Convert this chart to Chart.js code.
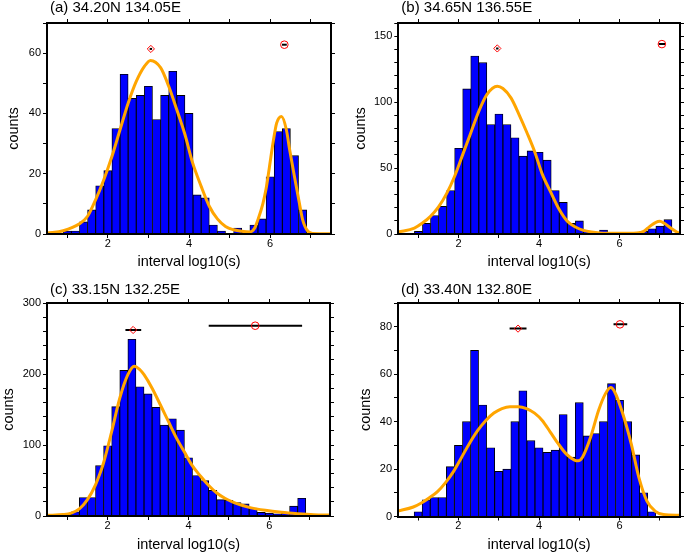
<!DOCTYPE html>
<html><head><meta charset="utf-8">
<script src="https://cdn.jsdelivr.net/npm/chart.js@4/dist/chart.umd.min.js"></script>
<style>
html,body{margin:0;padding:0;background:#fff;}
body{width:685px;height:552px;position:relative;overflow:hidden;}
canvas{position:absolute;}
</style></head><body>
<canvas id="ca" width="342" height="270" style="left:0;top:0"></canvas>
<canvas id="cb" width="343" height="270" style="left:342px;top:0"></canvas>
<canvas id="cc" width="342" height="282" style="left:0;top:270px"></canvas>
<canvas id="cd" width="343" height="282" style="left:342px;top:270px"></canvas>
<script>
// ---------- data ----------
const binCenters = [0.6,0.8,1.0,1.2,1.4,1.6,1.8,2.0,2.2,2.4,2.6,2.8,3.0,3.2,3.4,3.6,3.8,4.0,4.2,4.4,4.6,4.8,5.0,5.2,5.4,5.6,5.8,6.0,6.2,6.4,6.6,6.8,7.0,7.2,7.4];

const countsA = [0,0,1,1,4,8,16,21,35,53,45,46,49,38,46,54,46,40,13,12,3,1,0,2,1,3,5,19,34,35,26,8,0,0,0];
const countsB = [0,0,2,8,14,21,33,65,110,135,130,83,91,83,73,59,63,62,56,33,24,8,10,2,1,3,0,0,0,0,2,4,6,11,0];
const countsC = [0,0,3,6,26,26,71,99,154,205,249,182,172,153,128,137,121,82,57,50,36,23,22,19,17,11,5,4,3,4,14,25,2,0,0];
const countsD = [0,0,2,7,8,8,21,30,40,70,47,29,19,20,40,53,32,29,27,28,43,25,48,34,35,40,56,49,40,26,10,2,0,0,0];

const curveAx = [0.5,0.9,1.3,1.5,1.7,1.9,2.1,2.3,2.5,2.7,2.9,3.05,3.3,3.5,3.7,3.9,4.08,4.3,4.5,4.7,4.9,5.1,5.3,5.5,5.62,5.7,5.82,5.9,5.98,6.08,6.16,6.28,6.4,6.48,6.6,6.72,6.8,6.93,7.05,7.5];
const curveAy = [0.3,1.1,3.4,5.9,11.4,18,25.7,34.6,43.4,50.6,55.6,57.6,55.2,49,41.2,33,24,15.8,9.2,5,2.5,1.4,0.9,0.7,2,4.8,10,15,22,31,36.8,39,34.6,28,19,10.3,4.8,0.9,0.2,0.1];
const curveBx = [0.5,0.9,1.1,1.3,1.5,1.7,1.9,2.1,2.3,2.5,2.7,2.96,3.1,3.3,3.5,3.7,3.9,4.07,4.3,4.5,4.7,4.9,5.1,5.3,5.5,6.0,6.42,6.6,6.75,6.9,7.0,7.1,7.27,7.43,7.5];
const curveBy = [1.5,4.5,8.3,13.4,20.5,30.6,43.8,60.2,76.6,93,105.7,112,110.3,103.2,90.6,76.6,61.5,46,31,18.5,9.6,5.3,2.8,1.5,0.8,0.5,0.8,2,5.8,8.9,9.6,8.3,4.5,1.3,0.3];
const curveCx = [0.5,0.9,1.1,1.3,1.5,1.7,1.83,1.9,2.1,2.3,2.5,2.66,2.8,2.9,3.1,3.3,3.5,3.7,3.9,4.08,4.3,4.5,4.7,4.9,5.1,5.3,5.5,5.9,6.3,6.7,7.1,7.5];
const curveCy = [1,2,4,10,23,44,63,75,119,166,199,211,206,199,180,157,133.5,110,90,72,56,43,32.4,25,19.7,15.5,12.2,8,5.2,3.3,1.9,1.4];
const curveDx = [0.5,0.88,1.08,1.28,1.48,1.68,1.88,2.08,2.28,2.48,2.68,2.88,3.08,3.28,3.49,3.69,3.89,4.08,4.28,4.48,4.68,4.88,4.97,5.08,5.28,5.48,5.65,5.78,5.88,6.08,6.29,6.48,6.68,6.88,7.09,7.5];
const curveDy = [2.3,4,5.7,7.9,10.5,14.3,19,25,31,36.3,40.5,43.6,45.5,46.3,46.3,45.5,43.6,40.5,35.6,30.6,26.3,23.8,23.5,25,33.4,44.8,51.8,54.4,52.5,43.3,30.6,16.4,6.5,2.3,0.8,0.5];

// peak markers (diamond, circle) with horizontal error bars
const markAx = [3.06, 6.35], markAy = [61.4, 62.8], errLoA = [3.03, 6.29], errHiA = [3.09, 6.41];
const markBx = [2.96, 7.05], markBy = [140.7, 144], errLoB = [2.93, 6.97], errHiB = [2.99, 7.13];
const markCx = [2.63, 5.65], markCy = [262, 268], errLoC = [2.44, 4.50], errHiC = [2.83, 6.81];
const markDx = [3.48, 6.01], markDy = [79.2, 81], errLoD = [3.27, 5.85], errHiD = [3.69, 6.19];

const panelTitles = ["(a) 34.20N 134.05E", "(b) 34.65N 136.55E", "(c) 33.15N 132.25E", "(d) 33.40N 132.80E"];
const xTickValues = [1, 2, 3, 4, 5, 6, 7];
const xTickLabels = [2, 4, 6];
const yMaxes = [70, 160, 300, 90];
const yMinorSteps = [10, 10, 20, 10];
const yLabelSteps = [20, 50, 100, 20];
const xLabel = "interval log10(s)";
const yLabel = "counts";

// ---------- drawing ----------
const FONT = "'Liberation Sans', Arial, Helvetica, sans-serif";

const titlePlugin = {
  id: 'panelTitle',
  afterDraw(chart, args, opts) {
    const ctx = chart.ctx;
    ctx.save();
    ctx.font = '15px ' + FONT;
    ctx.fillStyle = '#000';
    ctx.textBaseline = 'alphabetic';
    ctx.textAlign = 'left';
    ctx.fillText(opts.text, chart.chartArea.left + 3, opts.y);
    ctx.restore();
  }
};

function axisCommon(pos, min, max, step, labelFn, showLabels) {
  return {
    type: 'linear', position: pos, min: min, max: max, offset: false,
    ticks: {
      display: showLabels, stepSize: step, autoSkip: false, maxRotation: 0,
      font: {family: FONT, size: 11}, color: '#000',
      padding: (pos === 'bottom') ? -1 : 2,
      callback: labelFn
    },
    grid: {display: true, drawOnChartArea: false, drawTicks: true, tickLength: 4, color: '#000', lineWidth: 1, offset: false},
    border: {display: true, color: '#000', width: 2, z: 1}
  };
}

function makePanel(id, idx, L, T, R, B, titleY, yTitlePad, xTitlePad, counts, cx, cy, mx, my, lo, hi) {
  const canvas = document.getElementById(id);
  const W = canvas.width, H = canvas.height;
  const datasets = [];
  datasets.push({
    type: 'line', data: mx.map((x, i) => ({x: x, y: my[i]})), showLine: false,
    pointStyle: ['rectRot', 'circle'], pointRadius: [3.6, 3.8], pointBorderColor: '#ff0000',
    pointBackgroundColor: 'rgba(0,0,0,0)', pointBorderWidth: 1, order: 0
  });
  lo.forEach((l, i) => datasets.push({
    type: 'line', data: [{x: l, y: my[i]}, {x: hi[i], y: my[i]}],
    borderColor: '#000', borderWidth: 2, pointRadius: 0, tension: 0, order: 1
  }));
  datasets.push({
    type: 'line', data: cx.map((x, i) => ({x: x, y: cy[i]})),
    borderColor: '#FFA500', borderWidth: 3, pointRadius: 0, cubicInterpolationMode: 'monotone', order: 2
  });
  datasets.push({
    type: 'bar', data: binCenters.map((x, i) => ({x: x, y: counts[i]})),
    backgroundColor: '#0000FF', borderColor: '#000', borderWidth: 0.9,
    barPercentage: 1, categoryPercentage: 1, order: 3
  });

  const ymax = yMaxes[idx], ystep = yMinorSteps[idx], ylab = yLabelSteps[idx];
  const xLab = v => (xTickLabels.indexOf(v) >= 0 ? String(v) : '');
  const yLab = v => (Math.abs(v % ylab) < 1e-9 ? String(v) : '');
  const setXTicks = s => { s.ticks = xTickValues.map(v => ({value: v})); };

  const x = axisCommon('bottom', 0.5, 7.5, 1, xLab, true);
  x.afterBuildTicks = setXTicks;
  x.title = {display: true, text: xLabel, color: '#000', font: {family: FONT, size: 14.5, lineHeight: 1}, padding: {top: 0, bottom: xTitlePad}};
  x.afterFit = s => { s.height = H - B; };
  const x2 = axisCommon('top', 0.5, 7.5, 1, xLab, false);
  x2.afterBuildTicks = setXTicks;
  x2.afterFit = s => { s.height = 0; };
  const y = axisCommon('left', 0, ymax, ystep, yLab, true);
  y.title = {display: true, text: yLabel, color: '#000', font: {family: FONT, size: 14.5, lineHeight: 1}, padding: {top: yTitlePad, bottom: 0}};
  y.afterFit = s => { s.width = L; };
  const y2 = axisCommon('right', 0, ymax, ystep, yLab, false);
  y2.afterFit = s => { s.width = 0; };

  new Chart(canvas, {
    type: 'bar',
    data: {datasets: datasets},
    options: {
      responsive: false, animation: false, devicePixelRatio: 1, events: [],
      layout: {padding: {left: 0, top: T, right: W - R, bottom: 0}},
      plugins: {legend: {display: false}, tooltip: {enabled: false}, panelTitle: {text: panelTitles[idx], y: titleY}},
      scales: {x: x, x2: x2, y: y, y2: y2}
    },
    plugins: [titlePlugin]
  });
}

makePanel('ca', 0, 47, 23, 331, 234, 12, 6.5, 0.75, countsA, curveAx, curveAy, markAx, markAy, errLoA, errHiA);
makePanel('cb', 1, 56.3, 23, 341.3, 234, 12, 11.75, 0.75, countsB, curveBx, curveBy, markBx, markBy, errLoB, errHiB);
makePanel('cc', 2, 47, 33, 330, 246, 24, 2, 0, countsC, curveCx, curveCy, markCx, markCy, errLoC, errHiC);
makePanel('cd', 3, 56, 33, 341, 246.5, 24, 16.75, 0, countsD, curveDx, curveDy, markDx, markDy, errLoD, errHiD);
</script>
</body></html>
